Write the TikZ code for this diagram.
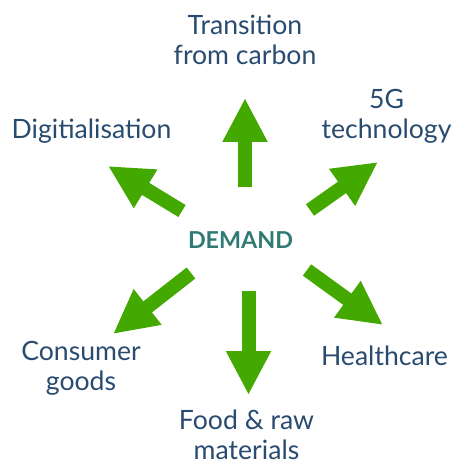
\documentclass[tikz,border=0pt]{standalone}
\usepackage{fontspec}
\setmainfont{Lato}
\usetikzlibrary{arrows.meta}
\definecolor{arrowgreen}{HTML}{43A800}
\definecolor{labelnavy}{HTML}{284B6F}
\definecolor{demandteal}{HTML}{2F7A72}
\tikzset{
  label/.style={text=labelnavy, font=\fontsize{26.6}{30}\selectfont, align=center, inner sep=0pt, anchor=base},
  center/.style={text=demandteal, font=\fontsize{23.3}{26}\selectfont\bfseries, inner sep=0pt, anchor=base},
  bigarrow/.style={draw=arrowgreen, line width=14pt, line cap=butt, -{Triangle[length=44pt,width=42pt]}}
}
\begin{document}
\begin{tikzpicture}[x=1pt,y=-1pt]
\useasboundingbox (0,0) rectangle (451,462);
\node[center] (demand) at (240.5,248) {DEMAND};
% multi-line labels are placed at the baseline of their last line
\node[label] (trans) at (245,65) {Transition\\from carbon};
\node[label] (digit) at (91.5,139) {Digitialisation};
\node[label] (fiveg) at (386.5,139) {5G\\technology};
\node[label] (consumer) at (81,390) {Consumer\\goods};
\node[label] (health) at (384.5,365) {Healthcare};
\node[label] (food) at (246.5,459) {Food \& raw\\materials};
% arrow end points
\coordinate (upS) at (245,187);   \coordinate (upE) at (245,98);
\coordinate (dnS) at (248.5,291); \coordinate (dnE) at (248.5,395);
\coordinate (ulS) at (182,211);   \coordinate (ulE) at (108,166);
\coordinate (urS) at (310,210);   \coordinate (urE) at (378,162);
\coordinate (llS) at (191,273);   \coordinate (llE) at (113,334);
\coordinate (lrS) at (307,270);   \coordinate (lrE) at (383,325);
\draw[bigarrow] (upS) -- (upE);
\draw[bigarrow] (dnS) -- (dnE);
\draw[bigarrow] (ulS) -- (ulE);
\draw[bigarrow] (urS) -- (urE);
\draw[bigarrow] (llS) -- (llE);
\draw[bigarrow] (lrS) -- (lrE);
\end{tikzpicture}
\end{document}
